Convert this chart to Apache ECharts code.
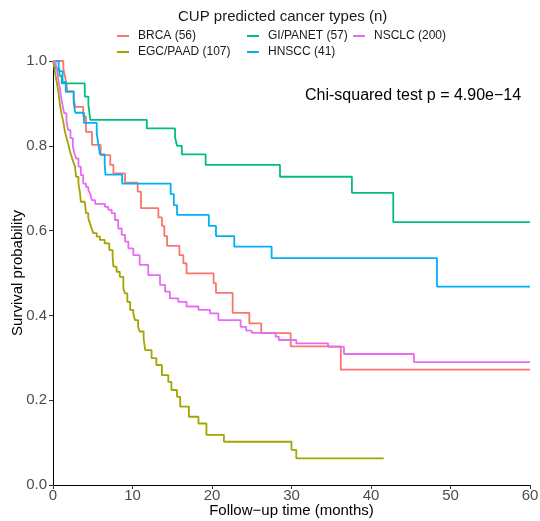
<!DOCTYPE html>
<html>
<head>
<meta charset="utf-8">
<script src="https://cdn.jsdelivr.net/npm/echarts@6/dist/echarts.min.js"></script>
<style>html,body{margin:0;padding:0;background:#fff}</style>
</head>
<body>
<div id="main" style="width:540px;height:521px;"></div>
<script>
    var groups = ['BRCA (56)', 'EGC/PAAD (107)', 'GI/PANET (57)', 'HNSCC (41)', 'NSCLC (200)'];
    var colors = ['#F8766D', '#A3A500', '#00BF7D', '#00B0F6', '#E76BF3'];

    // months / survival probability (step points)
    var brcaT = [0, 1.3, 1.5, 1.7, 1.8, 2.6, 2.8, 3.8, 4.15, 4.9, 6.0, 7.2, 7.6, 9.06, 10.65, 11.07, 13.25, 13.7, 14.0, 14.35, 15.9, 16.4, 16.8, 20.2, 20.5, 22.6, 24.7, 26.2, 29.9, 36.2, 60];
    var brcaS = [1.0, 0.982, 0.964, 0.946, 0.929, 0.911, 0.892, 0.869, 0.833, 0.802, 0.778, 0.755, 0.735, 0.713, 0.692, 0.653, 0.631, 0.611, 0.587, 0.564, 0.542, 0.523, 0.499, 0.476, 0.453, 0.406, 0.381, 0.358, 0.327, 0.272, 0.272];

    var egcT = [0, 0.1, 0.25, 0.46, 0.67, 0.88, 1.09, 1.3, 1.5, 1.72, 1.95, 2.14, 2.35, 2.55, 2.77, 2.9, 3.2, 3.4, 3.5, 4.0, 4.15, 4.44, 4.65, 4.87, 5.07, 5.5, 5.9, 6.5, 7.08, 7.5, 7.6, 8.0, 8.4, 8.85, 9.06, 9.35, 9.7, 10.1, 10.3, 10.7, 10.9, 11.4, 11.5, 11.6, 12.4, 13.0, 13.7, 14.5, 14.9, 15.6, 16.0, 17.1, 18.3, 19.3, 21.5, 30.0, 30.6, 41.6];
    var egcS = [1.0, 0.991, 0.975, 0.951, 0.928, 0.896, 0.873, 0.857, 0.833, 0.818, 0.802, 0.786, 0.774, 0.762, 0.751, 0.727, 0.711, 0.688, 0.668, 0.664, 0.641, 0.629, 0.617, 0.605, 0.594, 0.586, 0.578, 0.570, 0.554, 0.538, 0.515, 0.503, 0.491, 0.464, 0.452, 0.432, 0.413, 0.405, 0.389, 0.374, 0.362, 0.345, 0.332, 0.318, 0.299, 0.283, 0.259, 0.243, 0.224, 0.208, 0.185, 0.161, 0.145, 0.118, 0.102, 0.083, 0.063, 0.063];

    var giT = [0, 0.3, 0.8, 1.1, 4.0, 4.45, 4.7, 11.8, 15.35, 15.6, 16.2, 19.2, 28.55, 37.6, 42.8, 60];
    var giS = [1.0, 0.982, 0.965, 0.947, 0.916, 0.896, 0.861, 0.841, 0.820, 0.800, 0.780, 0.755, 0.727, 0.689, 0.620, 0.620];

    var hnT = [0, 0.7, 1.2, 1.6, 2.6, 2.8, 3.9, 5.5, 5.7, 5.9, 6.5, 6.6, 8.7, 14.8, 15.2, 15.6, 19.6, 20.5, 22.8, 27.5, 48.3, 60];
    var hnS = [1.0, 0.976, 0.951, 0.927, 0.902, 0.878, 0.854, 0.829, 0.805, 0.780, 0.756, 0.732, 0.711, 0.686, 0.660, 0.637, 0.611, 0.587, 0.562, 0.535, 0.468, 0.468];

    var nsT = [0, 0.3, 0.46, 0.67, 0.88, 1.0, 1.2, 1.4, 1.7, 1.9, 2.2, 2.5, 2.7, 2.9, 3.2, 3.5, 3.8, 4.15, 4.44, 4.65, 4.87, 5.3, 6.54, 6.96, 7.38, 7.8, 8.2, 8.64, 9.06, 9.48, 10.1, 10.9, 11.98, 13.46, 14.1, 14.7, 15.76, 16.8, 18.3, 19.75, 20.8, 23.6, 24.3, 25.0, 28.0, 28.4, 30.6, 34.6, 36.6, 45.4, 60];
    var nsS = [1.0, 0.992, 0.983, 0.955, 0.935, 0.916, 0.896, 0.877, 0.857, 0.837, 0.818, 0.798, 0.782, 0.770, 0.751, 0.731, 0.711, 0.703, 0.696, 0.688, 0.672, 0.663, 0.656, 0.649, 0.641, 0.625, 0.605, 0.590, 0.574, 0.558, 0.542, 0.519, 0.495, 0.472, 0.456, 0.440, 0.432, 0.421, 0.413, 0.405, 0.389, 0.373, 0.364, 0.359, 0.350, 0.342, 0.334, 0.326, 0.309, 0.290, 0.290];

    var pText = 'Chi-squared test p = 4.90e\u221214';

    var font = 'Liberation Sans, Arial, sans-serif';

    function km(t, s) {
        return t.map(function (v, i) { return [v, s[i]]; });
    }
    var curves = [km(brcaT, brcaS), km(egcT, egcS), km(giT, giS), km(hnT, hnS), km(nsT, nsS)];

    var myChart = echarts.init(document.getElementById('main'));

    function legendCol(left, names) {
        return {
            orient: 'vertical',
            left: left,
            top: 30,
            padding: 0,
            itemGap: 4,
            itemWidth: 12,
            itemHeight: 2,
            icon: 'rect',
            selectedMode: false,
            data: names,
            textStyle: {fontFamily: font, fontSize: 12, color: '#1a1a1a', padding: [0, 0, 0, 4]}
        };
    }

    option = {
        animation: false,
        color: colors,
        title: {
            text: 'CUP predicted cancer types (n)',
            left: 178,
            top: 9,
            padding: 0,
            textStyle: {fontFamily: font, fontSize: 15, fontWeight: 'normal', color: '#1a1a1a'}
        },
        legend: [
            legendCol(117, [groups[0], groups[1]]),
            legendCol(247, [groups[2], groups[3]]),
            legendCol(353, [groups[4]])
        ],
        grid: {left: 53, right: 10, top: 61, bottom: 36, containLabel: false, outerBoundsMode: 'none'},
        xAxis: {
            type: 'value',
            min: 0,
            max: 60,
            interval: 10,
            name: 'Follow\u2212up time (months)',
            nameLocation: 'middle',
            nameGap: 18,
            nameMoveOverlap: false,
            nameTextStyle: {fontFamily: font, fontSize: 15, color: '#000'},
            axisLine: {lineStyle: {color: '#000', width: 1}},
            axisTick: {length: 4, lineStyle: {color: '#333'}},
            axisLabel: {fontFamily: font, fontSize: 15, color: '#4d4d4d', margin: 3},
            splitLine: {show: false}
        },
        yAxis: {
            type: 'value',
            min: 0,
            max: 1,
            interval: 0.2,
            name: 'Survival probability',
            nameLocation: 'middle',
            nameGap: 28,
            nameMoveOverlap: false,
            nameTextStyle: {fontFamily: font, fontSize: 15, color: '#000'},
            axisLine: {show: true, lineStyle: {color: '#000', width: 1}},
            axisTick: {show: true, length: 4, lineStyle: {color: '#333'}},
            axisLabel: {
                fontFamily: font, fontSize: 15, color: '#4d4d4d', margin: 6,
                formatter: function (v) { return v.toFixed(1); }
            },
            splitLine: {show: false}
        },
        graphic: [{
            type: 'text',
            left: 305,
            top: 88,
            style: {text: pText, fontFamily: font, fontSize: 16, fill: '#000'}
        }],
        series: groups.map(function (g, i) {
            return {
                name: g,
                type: 'line',
                step: 'end',
                showSymbol: false,
                symbol: 'none',
                lineStyle: {width: 1.8},
                data: curves[i]
            };
        })
    };

    myChart.setOption(option);
</script>
</body>
</html>
